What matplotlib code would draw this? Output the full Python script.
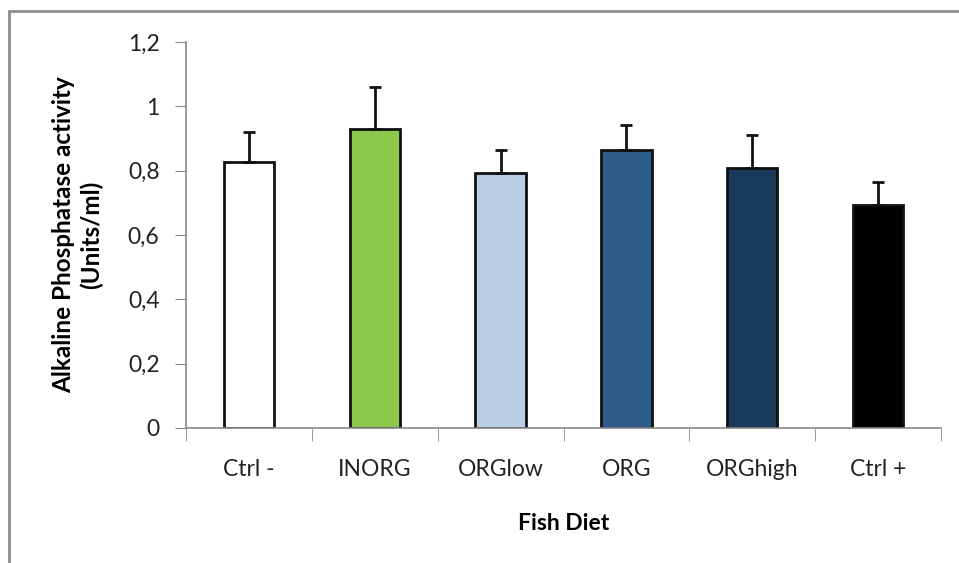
import numpy as np
import matplotlib.pyplot as plt
from matplotlib.patches import Rectangle

# Data
diets = ['Ctrl -', 'INORG', 'ORGlow', 'ORG', 'ORGhigh', 'Ctrl +']
activity = [0.827, 0.929, 0.793, 0.864, 0.808, 0.693]
errors = [0.093, 0.130, 0.071, 0.078, 0.103, 0.072]
colors = ['#FFFFFF', '#8DC84D', '#B9CDE3', '#2E5D8C', '#1A3A5C', '#000000']

plt.rcParams['font.family'] = ['Lato', 'DejaVu Sans']

fig = plt.figure(figsize=(9.59, 5.63), dpi=100)
ax = fig.add_axes([186 / 959, 1 - 428 / 563, (941 - 186) / 959, (428 - 42) / 563])

# outer chart border (cropped on right/bottom)
fig.patches.append(Rectangle((9 / 959, -0.05), 1.1, 1 - 11 / 563 + 0.05,
                             transform=fig.transFigure, fill=False,
                             edgecolor='#8C8C8C', linewidth=2))

x = np.arange(len(diets))
ax.bar(x, activity, width=0.4, color=colors, edgecolor='#111111', linewidth=2,
       zorder=2)
ax.errorbar(x, activity, yerr=[np.zeros(len(errors)), errors], fmt='none',
            ecolor='#111111', elinewidth=2, capsize=4.5, capthick=2, zorder=3)

ax.set_xlim(-0.5, len(diets) - 0.5)
ax.set_ylim(0, 1.2)
ax.set_yticks([0, 0.2, 0.4, 0.6, 0.8, 1.0, 1.2])
ax.set_yticklabels(['0', '0,2', '0,4', '0,6', '0,8', '1', '1,2'])
ax.set_xticks(x)
ax.set_xticklabels(diets)
# category boundary ticks
ax.set_xticks(np.arange(-0.5, len(diets)), minor=True)
ax.tick_params(axis='x', which='major', length=0, pad=22, labelsize=16.5,
               colors='#222222')
ax.tick_params(axis='x', which='minor', length=9, color='#888888', direction='out')
ax.tick_params(axis='y', length=8, color='#888888', labelcolor='#222222',
               labelsize=16.5, pad=11)

for s in ['top', 'right']:
    ax.spines[s].set_visible(False)
for s in ['left', 'bottom']:
    ax.spines[s].set_color('#888888')
    ax.spines[s].set_linewidth(1.2)

ax.set_xlabel('Fish Diet', fontsize=16.5, fontweight='bold', labelpad=24)
ax.set_ylabel('Alkaline Phosphatase activity\n(Units/ml)', fontsize=17.5,
              fontweight='bold', labelpad=18, linespacing=1.2)

fig.savefig('out.png', dpi=100)
